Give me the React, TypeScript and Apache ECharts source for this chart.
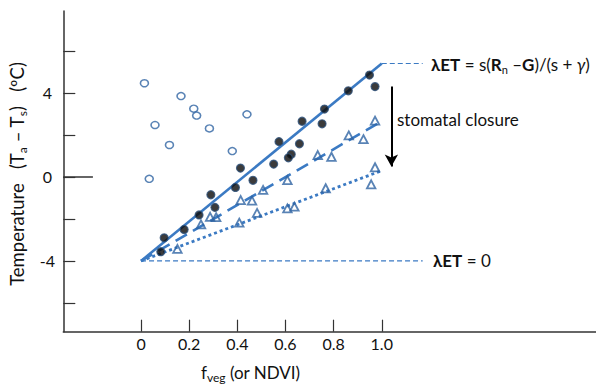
import { useEffect, useRef } from 'react';
import * as echarts from 'echarts';

// Axis ticks and labels
const xTicks = [0, 0.2, 0.4, 0.6, 0.8, 1.0];
const yTicks = [-6, -4, -2, 0, 2, 4, 6];
const yLabels = [-4, 0, 4];
const xRange = [-0.323, 1.89];
const yRange = [-7.37, 7.9];

// Data: [fveg, Ta - Ts]
const openCircles = [
  [0.014, 4.46], [0.166, 3.85], [0.219, 3.25], [0.231, 2.92], [0.44, 2.98],
  [0.058, 2.47], [0.284, 2.31], [0.118, 1.52], [0.379, 1.23], [0.034, -0.09],
];
const filledCircles = [
  [0.413, 0.42], [0.465, -0.16], [0.392, -0.5], [0.29, -0.85], [0.307, -1.45],
  [0.241, -1.81], [0.179, -2.5], [0.096, -2.9], [0.082, -3.56], [0.949, 4.85],
  [0.972, 4.3], [0.861, 4.1], [0.762, 3.23], [0.669, 2.65], [0.752, 2.53],
  [0.573, 1.68], [0.658, 1.58], [0.624, 1.08], [0.612, 0.91], [0.551, 0.61],
];
const triangles = [
  [0.414, -1.1], [0.461, -1.13], [0.287, -1.9], [0.312, -1.92], [0.249, -2.26],
  [0.482, -1.71], [0.408, -2.18], [0.151, -3.43], [0.972, 2.68], [0.863, 1.98],
  [0.924, 1.8], [0.734, 1.04], [0.791, 0.96], [0.608, -0.15], [0.507, -0.62],
  [0.972, 0.46], [0.956, -0.35], [0.767, -0.54], [0.608, -1.5], [0.637, -1.42],
];
const solidLine = [[0, -4], [1.0, 5.4]];
const dashedLine = [[0, -4], [1.0, 2.65]];
const dottedLine = [[0, -4], [1.0, 0.3]];
const upperRef = [[1.0, 5.4], [1.17, 5.4]];
const lowerRef = [[0, -4], [1.17, -4]];
const zeroTick = [[-0.323, 0], [-0.2, 0]];
const arrowFrom = [1.04, 4.3];
const arrowTo = [1.04, 0.49];

const BLUE = '#3b7ac3';
const MARK = '#2f64a3';
const FONT = 'Lato';

export default function App() {
  const ref = useRef<HTMLDivElement>(null);
  useEffect(() => {
    document.body.style.margin = '0';
    const chart = echarts.init(ref.current!, null, { renderer: 'svg' });
    const sub = (fs: number) => ({ fontSize: fs, fontFamily: FONT, padding: [10, 0, 0, 0], verticalAlign: 'bottom' });
    chart.setOption({
      animation: false,
      backgroundColor: '#fff',
      grid: { left: 63.3, right: 0, top: 11, bottom: 53.3 },
      xAxis: {
        type: 'value', min: xRange[0], max: xRange[1],
        axisLine: { onZero: false, lineStyle: { color: '#333', width: 1.5 } },
        axisTick: { show: true, inside: true, length: 12, customValues: xTicks, lineStyle: { color: '#333', width: 1.2 } },
        axisLabel: {
          customValues: xTicks, margin: 4, fontSize: 16, fontFamily: FONT, color: '#111',
          formatter: (v: number) => (v === 0 ? '0' : v.toFixed(1)),
        },
        splitLine: { show: false },
      },
      yAxis: {
        type: 'value', min: yRange[0], max: yRange[1],
        axisLine: { onZero: false, lineStyle: { color: '#333', width: 1.5 } },
        axisTick: { show: true, inside: true, length: 12, customValues: yTicks, lineStyle: { color: '#333', width: 1.2 } },
        axisLabel: {
          customValues: yLabels, margin: 16, align: 'center', fontSize: 16, fontFamily: FONT, color: '#111',
          formatter: (v: number) => String(v),
        },
        splitLine: { show: false },
      },
      series: [
        { type: 'line', data: zeroTick, symbol: 'none', lineStyle: { color: '#333', width: 1.5 }, z: 3 },
        { type: 'line', data: lowerRef, symbol: 'none', lineStyle: { color: BLUE, width: 1.2, type: [5, 3] } },
        { type: 'line', data: upperRef, symbol: 'none', lineStyle: { color: BLUE, width: 1.2, type: [5, 3] } },
        { type: 'line', data: solidLine, symbol: 'none', lineStyle: { color: BLUE, width: 2.6 } },
        { type: 'line', data: dashedLine, symbol: 'none', lineStyle: { color: BLUE, width: 2.6, type: [13, 7] } },
        {
          type: 'line', data: dottedLine, symbol: 'none', lineStyle: { color: BLUE, width: 2.8, type: [3, 3] },
          markLine: {
            silent: true, symbol: ['none', 'arrow'], symbolSize: [10, 12],
            label: { show: false },
            lineStyle: { color: '#000', width: 2, type: 'solid' },
            data: [[{ coord: arrowFrom }, { coord: arrowTo }]],
          },
        },
        {
          type: 'scatter', data: openCircles, symbol: 'circle', symbolSize: [8, 7], z: 5,
          itemStyle: { color: '#fff', borderColor: MARK, borderWidth: 1.5 },
        },
        {
          type: 'scatter', data: triangles, symbol: 'triangle', symbolSize: [8.5, 8], z: 5,
          itemStyle: { color: 'rgba(255,255,255,0)', borderColor: MARK, borderWidth: 1.8 },
        },
        {
          type: 'scatter', data: filledCircles, symbol: 'circle', symbolSize: 8, z: 6,
          itemStyle: { color: '#0a0a0a', borderColor: '#2c4f78', borderWidth: 1.2 },
        },
      ],
      graphic: [
        {
          type: 'text', x: 17, y: 174, rotation: Math.PI / 2,
          style: {
            text: 'Temperature   (T{s|a} – T{s|s})   (ºC)',
            fontSize: 18.5, fontFamily: FONT, fill: '#111', align: 'center', verticalAlign: 'middle',
            rich: { s: sub(12) },
          },
        },
        {
          type: 'text', x: 201, y: 372,
          style: {
            text: 'f{s|veg} (or NDVI)',
            fontSize: 17, fontFamily: FONT, fill: '#111', align: 'left', verticalAlign: 'middle',
            rich: { s: sub(12) },
          },
        },
        {
          type: 'text', x: 397, y: 119,
          style: { text: 'stomatal closure', fontSize: 17, fontFamily: FONT, fill: '#111', align: 'left', verticalAlign: 'middle' },
        },
        {
          type: 'text', x: 431, y: 64,
          style: {
            text: '{b|λET} = s({b|R}{s|n} –{b|G})/(s + {i|γ})',
            fontSize: 17, fontFamily: FONT, fill: '#111', align: 'left', verticalAlign: 'middle',
            rich: {
              b: { fontSize: 17, fontFamily: FONT, fontWeight: 'bold' },
              i: { fontSize: 17, fontFamily: FONT, fontStyle: 'italic' },
              s: sub(11),
            },
          },
        },
        {
          type: 'text', x: 433, y: 260,
          style: {
            text: '{b|λET} = 0',
            fontSize: 17, fontFamily: FONT, fill: '#111', align: 'left', verticalAlign: 'middle',
            rich: { b: { fontSize: 17, fontFamily: FONT, fontWeight: 'bold' } },
          },
        },
      ],
    });
    return () => chart.dispose();
  }, []);
  return <div ref={ref} style={{ width: 596, height: 385 }} />;
}
